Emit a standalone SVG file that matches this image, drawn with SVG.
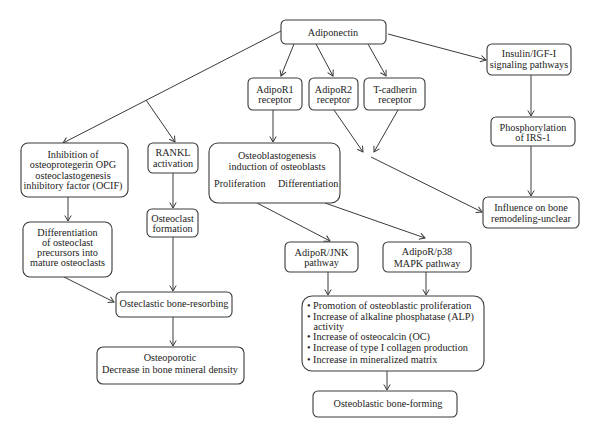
<svg xmlns="http://www.w3.org/2000/svg" width="600" height="437" viewBox="0 0 600 437">
<defs>
<style>
.b{fill:#fff;stroke:#3a3a3a;stroke-width:1.1}
.t{font-family:"Liberation Serif","Times New Roman",serif;font-size:10.2px;fill:#222}
.m{text-anchor:middle}
.c line{stroke:#3a3a3a;stroke-width:1;fill:none}
</style>
<marker id="a" markerWidth="8" markerHeight="8" refX="6" refY="4" orient="auto" markerUnits="userSpaceOnUse">
<path d="M0.5,0.8 L6,4 L0.5,7.2" fill="none" stroke="#3a3a3a" stroke-width="1"/>
</marker>
</defs>
<rect width="600" height="437" fill="#fff"/>
<g class="c" id="connectors">
<line x1="294" y1="44" x2="281" y2="76" marker-end="url(#a)"/>
<line x1="316" y1="44" x2="333" y2="76" marker-end="url(#a)"/>
<line x1="368" y1="44" x2="386" y2="76" marker-end="url(#a)"/>
<line x1="388" y1="34" x2="486" y2="60" marker-end="url(#a)"/>
<line x1="281" y1="31" x2="63" y2="143" marker-end="url(#a)"/>
<line x1="146" y1="100" x2="175" y2="142" marker-end="url(#a)"/>
<line x1="273" y1="110" x2="273" y2="142" marker-end="url(#a)"/>
<line x1="334" y1="110" x2="363" y2="152" marker-end="url(#a)"/>
<line x1="398" y1="110" x2="374" y2="152" marker-end="url(#a)"/>
<line x1="371" y1="157" x2="482" y2="212" marker-end="url(#a)"/>
<line x1="531" y1="75" x2="531" y2="116" marker-end="url(#a)"/>
<line x1="531" y1="146" x2="531" y2="196" marker-end="url(#a)"/>
<line x1="68" y1="197" x2="68" y2="221" marker-end="url(#a)"/>
<line x1="173" y1="173" x2="173" y2="208" marker-end="url(#a)"/>
<line x1="173" y1="237" x2="173" y2="291" marker-end="url(#a)"/>
<line x1="64" y1="277" x2="114" y2="302" marker-end="url(#a)"/>
<line x1="173" y1="317" x2="173" y2="346" marker-end="url(#a)"/>
<line x1="257" y1="203" x2="330" y2="241" marker-end="url(#a)"/>
<line x1="325" y1="203" x2="425" y2="238" marker-end="url(#a)"/>
<line x1="328" y1="272" x2="328" y2="295" marker-end="url(#a)"/>
<line x1="426" y1="272" x2="426" y2="295" marker-end="url(#a)"/>
<line x1="387" y1="371" x2="387" y2="390" marker-end="url(#a)"/>
</g>
<g id="adiponectin"><rect class="b" x="281" y="20" width="105" height="24" rx="5"/><text class="t m" x="333" y="35.5">Adiponectin</text></g>
<g id="insulin"><rect class="b" x="487" y="44" width="84" height="31" rx="5"/><text class="t m" x="529" y="56.5">Insulin/IGF-I</text><text class="t m" x="529" y="67.5">signaling pathways</text></g>
<g id="phospho"><rect class="b" x="491" y="117" width="84" height="29" rx="5"/><text class="t m" x="533" y="130.5">Phosphorylation</text><text class="t m" x="533" y="140.5">of IRS-1</text></g>
<g id="influence"><rect class="b" x="483" y="197" width="96" height="31" rx="5"/><text class="t m" x="531" y="210.5">Influence on bone</text><text class="t m" x="531" y="221.5">remodeling-unclear</text></g>
<g id="adipor1"><rect class="b" x="248" y="78" width="54" height="32" rx="5"/><text class="t m" x="275" y="92.5">AdipoR1</text><text class="t m" x="275" y="102.5">receptor</text></g>
<g id="adipor2"><rect class="b" x="309" y="78" width="49" height="32" rx="5"/><text class="t m" x="333.5" y="92.5">AdipoR2</text><text class="t m" x="333.5" y="102.5">receptor</text></g>
<g id="tcadherin"><rect class="b" x="364" y="78" width="61" height="32" rx="5"/><text class="t m" x="395" y="92.5">T-cadherin</text><text class="t m" x="395" y="102.5">receptor</text></g>
<g id="inhibition"><rect class="b" x="21" y="143" width="107" height="54" rx="7"/><text class="t m" x="73" y="157.5">Inhibition of</text><text class="t m" x="73" y="168">osteoprotegerin OPG</text><text class="t m" x="73" y="178.5">osteoclastogenesis</text><text class="t m" x="73" y="189">inhibitory factor (OCIF)</text></g>
<g id="rankl"><rect class="b" x="148" y="143" width="50" height="30" rx="5"/><text class="t m" x="173" y="155.5">RANKL</text><text class="t m" x="173" y="166.5">activation</text></g>
<g id="osteoblastogenesis"><rect class="b" x="209" y="143" width="131" height="60" rx="9"/><text class="t m" x="277" y="158.5">Osteoblastogenesis</text><text class="t m" x="277" y="169.5">induction of osteoblasts</text><text class="t" x="214" y="186.5">Proliferation</text><text class="t" x="278" y="186.5">Differentiation</text></g>
<g id="differentiation"><rect class="b" x="23" y="222" width="89" height="55" rx="7"/><text class="t m" x="67.5" y="235.5">Differentiation</text><text class="t m" x="67.5" y="245.5">of osteoclast</text><text class="t m" x="67.5" y="255.5">precursors into</text><text class="t m" x="67.5" y="265.5">mature osteoclasts</text></g>
<g id="osteoclastformation"><rect class="b" x="147" y="209" width="51" height="28" rx="5"/><text class="t m" x="172.5" y="221.5">Osteoclast</text><text class="t m" x="172.5" y="231.5">formation</text></g>
<g id="resorbing"><rect class="b" x="116" y="292" width="116" height="25" rx="5"/><text class="t m" x="174" y="306.5">Osteclastic bone-resorbing</text></g>
<g id="osteoporotic"><rect class="b" x="97" y="347" width="147" height="37" rx="6"/><text class="t m" x="170" y="360.5">Osteoporotic</text><text class="t m" x="170" y="372.5">Decrease in bone mineral density</text></g>
<g id="jnk"><rect class="b" x="285" y="242" width="73" height="30" rx="5"/><text class="t m" x="321.5" y="255.5">AdipoR/JNK</text><text class="t m" x="321.5" y="265.5">pathway</text></g>
<g id="p38"><rect class="b" x="383" y="242" width="88" height="30" rx="5"/><text class="t m" x="427" y="254.5">AdipoR/p38</text><text class="t m" x="427" y="266.5">MAPK pathway</text></g>
<g id="effects"><rect class="b" x="302" y="296" width="182" height="75" rx="10"/>
<text class="t" x="307" y="309">• Promotion of osteoblastic proliferation</text>
<text class="t" x="307" y="320">• Increase of alkaline phosphatase (ALP)</text>
<text class="t" x="313.5" y="330">activity</text>
<text class="t" x="307" y="339.5">• Increase of osteocalcin (OC)</text>
<text class="t" x="307" y="351">• Increase of type I collagen production</text>
<text class="t" x="307" y="362.5">• Increase in mineralized matrix</text></g>
<g id="boneforming"><rect class="b" x="313" y="391" width="144" height="26" rx="5"/><text class="t m" x="388" y="406.5">Osteoblastic bone-forming</text></g>
</svg>
